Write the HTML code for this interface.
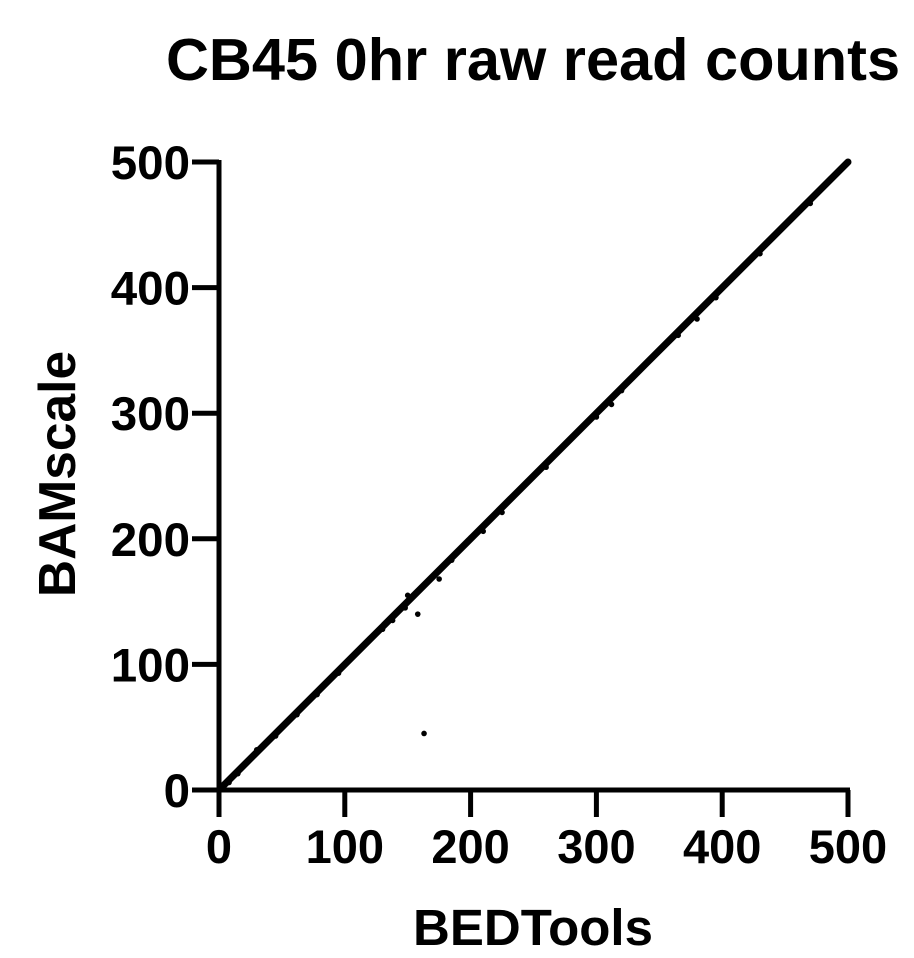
<!DOCTYPE html>
<html><head><meta charset="utf-8"><style>
html,body{margin:0;padding:0;background:#fff;}
svg{display:block;font-family:"Liberation Sans",Arial,sans-serif;font-weight:bold;}
</style></head><body>
<svg id="chart" width="914" height="958" viewBox="0 0 914 958">
<text x="533" y="80" font-size="59.5" text-anchor="middle">CB45 0hr raw read counts</text>
<text x="533" y="945" font-size="51" text-anchor="middle">BEDTools</text>
<text transform="translate(75,474) rotate(-90)" font-size="51.5" text-anchor="middle">BAMscale</text>
<g id="axes"></g>
<g id="marks"></g>
</svg>
<script>
const xTicks=[0,100,200,300,400,500];
const yTicks=[0,100,200,300,400,500];
const diagX=[0,20,40,60,80,100,120,140,160,180,200,220,240,260,280,300,320,340,360,380,400,420,440,460,480,500];
const diagY=[0,20,40,60,80,100,120,140,160,180,200,220,240,260,280,300,320,340,360,380,400,420,440,460,480,500];
const ptX=[3,8,15,30,45,62,78,95,130,138,148,150,158,163,175,185,210,225,260,300,312,320,365,380,395,430,470,500];
const ptY=[2,6,13,32,43,60,76,93,128,135,145,155,140,45,168,183,206,221,257,297,307,318,362,375,392,427,467,500];
const NS="http://www.w3.org/2000/svg";
const x0=219,x1=848,y0=790,y1=162;
function sx(v){return x0+(v/500)*(x1-x0);}
function sy(v){return y0-(v/500)*(y0-y1);}
const axes=document.getElementById('axes'),marks=document.getElementById('marks');
function mk(tag,attrs,parent){const e=document.createElementNS(NS,tag);for(const k in attrs)e.setAttribute(k,attrs[k]);parent.appendChild(e);return e;}
let yl=mk('line',{x1:x0,y1:y1-2,x2:x0,y2:y0+27,stroke:'#000','stroke-width':5},axes);


let xl=mk('line',{x1:x0-27,y1:y0,x2:x1+2,y2:y0,stroke:'#000','stroke-width':5},axes);


xTicks.forEach(v=>{
  let t=mk('line',{x1:sx(v),y1:y0,x2:sx(v),y2:y0+27,stroke:'#000','stroke-width':5},axes);
  
  
  let l=mk('text',{x:sx(v),y:863,'font-size':47,'text-anchor':'middle'},axes);l.textContent=v;
  
  
});
yTicks.forEach(v=>{
  let t=mk('line',{x1:x0-27,y1:sy(v),x2:x0,y2:sy(v),stroke:'#000','stroke-width':5},axes);
  
  
  let l=mk('text',{x:190,y:sy(v)+17,'font-size':47.5,'text-anchor':'end'},axes);l.textContent=v;
  
  
});
let d=diagX.map((v,i)=>(i?'L':'M')+sx(v)+','+sy(diagY[i])).join(' ');
let p=mk('path',{d:d,stroke:'#000','stroke-width':7,fill:'none','stroke-linecap':'round'},marks);


ptX.forEach((v,i)=>{
  let c=mk('circle',{cx:sx(v),cy:sy(ptY[i]),r:2.8,fill:'#000'},marks);
  
  
});
</script>
</body></html>
